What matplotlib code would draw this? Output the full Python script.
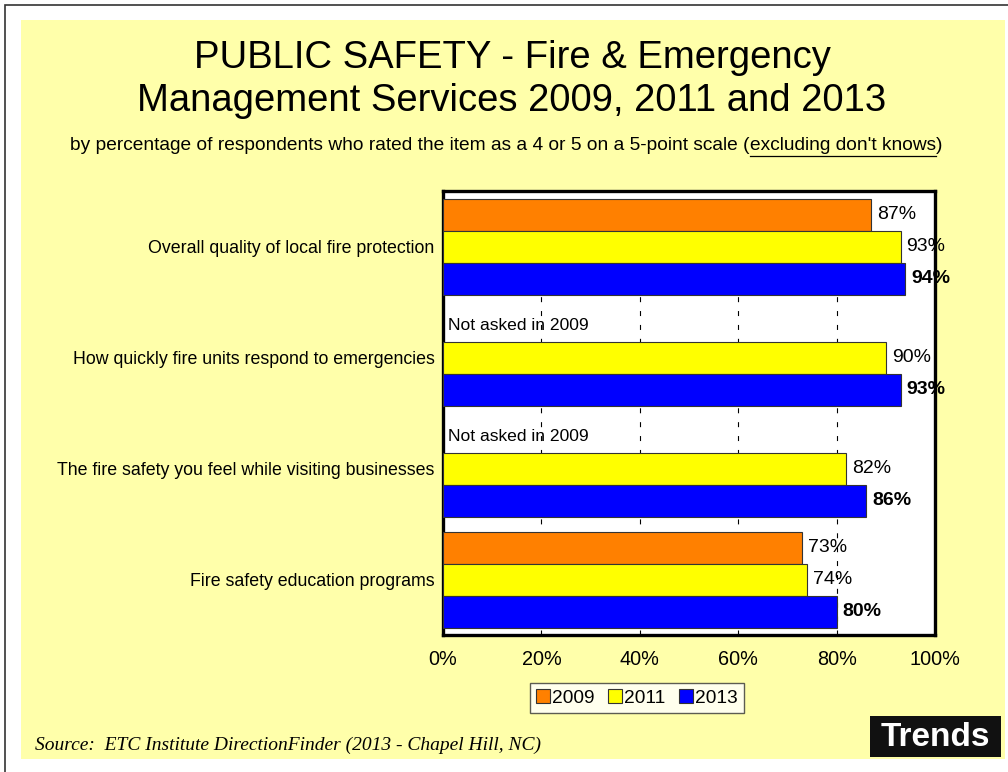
import matplotlib
matplotlib.use("Agg")
import matplotlib.pyplot as plt
from matplotlib.patches import Rectangle, Patch

plt.rcParams["font.family"] = ["Liberation Sans", "DejaVu Sans"]

categories = [
    "Overall quality of local fire protection",
    "How quickly fire units respond to emergencies",
    "The fire safety you feel while visiting businesses",
    "Fire safety education programs",
]
years = ["2009", "2011", "2013"]
v2009 = [87, None, None, 73]
v2011 = [93, 90, 82, 74]
v2013 = [94, 93, 86, 80]
xticks = [0, 20, 40, 60, 80, 100]

colors = ["#FF8000", "#FFFF00", "#0000FF"]
W, H = 1008, 772

fig = plt.figure(figsize=(W / 100, H / 100), dpi=100)
fig.patch.set_facecolor("white")

# page frame and the yellow slide panel
fig.add_artist(Rectangle((5 / W, -0.1), 1.1, 1.1 - 5 / H, transform=fig.transFigure,
                         facecolor="white", edgecolor="#333333", lw=1.2, zorder=0))
fig.add_artist(Rectangle((21 / W, 1 - 759 / H), (1005 - 21) / W, (759 - 20) / H,
                         transform=fig.transFigure, facecolor="#FFFFAA",
                         edgecolor="none", zorder=0))

fig.text(512 / W, 1 - 58 / H, "PUBLIC SAFETY - Fire & Emergency",
         ha="center", va="center", fontsize=27.5)
fig.text(512 / W, 1 - 101 / H, "Management Services 2009, 2011 and 2013",
         ha="center", va="center", fontsize=27.5)

sub_fs = 13.8
sub_y = 1 - 146 / H
part1 = fig.text(70 / W, sub_y,
                 "by percentage of respondents who rated the item as a 4 or 5 on a 5-point scale (",
                 ha="left", va="center", fontsize=sub_fs)

ax = fig.add_axes([443 / W, 1 - 635 / H, (935 - 443) / W, (635 - 191) / H])
ax.set_facecolor("white")

h = 32 / 111
series = [v2009, v2011, v2013]
for k, vals in enumerate(series):
    for i, v in enumerate(vals):
        y = i + (k - 1) * h
        if v is None:
            ax.text(1, y, "Not asked in 2009", ha="left", va="center", fontsize=12.6,
                    zorder=4)
            continue
        ax.barh(y, v, height=h, color=colors[k], edgecolor="#333333", lw=0.8, zorder=3)
        ax.text(v + 1.2, y, f"{v}%", ha="left", va="center", zorder=4,
                fontsize=14,
                fontweight="bold" if k == 2 else "normal")

for x in xticks[1:-1]:
    ax.axvline(x, color="black", lw=0.8, ls=(0, (4.5, 8)), zorder=1)

ax.set_xlim(0, 100)
ax.set_ylim(3.5, -0.5)
ax.set_xticks(xticks)
ax.set_xticklabels([f"{x}%" for x in xticks], fontsize=14.3)
ax.set_yticks(range(len(categories)))
ax.set_yticklabels(categories, fontsize=12.8)
ax.tick_params(length=0)
ax.tick_params(axis="x", pad=11)
ax.tick_params(axis="y", pad=6)
for s in ax.spines.values():
    s.set_linewidth(2.4)
    s.set_color("black")

handles = [Patch(facecolor=c, edgecolor="#333333", lw=0.8) for c in colors]
leg = fig.legend(handles, years, loc="center", bbox_to_anchor=(637 / W, 1 - 698 / H),
                 ncol=3, fontsize=13.8, frameon=True, fancybox=False,
                 handlelength=0.75, handleheight=0.75, handletextpad=0.1,
                 columnspacing=0.7, borderpad=0.3)
leg.get_frame().set_edgecolor("#333333")
leg.get_frame().set_linewidth(1.0)

fig.text(35 / W, 1 - 745 / H, "Source:  ETC Institute DirectionFinder (2013 - Chapel Hill, NC)",
         ha="left", va="center", fontsize=14, fontstyle="italic",
         family=["Liberation Serif", "DejaVu Serif"])

fig.add_artist(Rectangle((870 / W, 1 - 757 / H), 131 / W, 41 / H,
                         transform=fig.transFigure, facecolor="#111111",
                         edgecolor="none", zorder=2))
fig.text(935 / W, 1 - 738 / H, "Trends", ha="center", va="center", color="white",
         fontsize=24, fontweight="bold", zorder=3)

# the underlined part of the subtitle is placed after measuring the first part
fig.canvas.draw()
r = part1.get_window_extent()
u = fig.text(r.x1 / W, sub_y, "excluding don't knows", ha="left", va="center",
             fontsize=sub_fs)
fig.canvas.draw()
ur = u.get_window_extent()
fig.add_artist(plt.Line2D([ur.x0 / W, ur.x1 / W], [(ur.y0 - 1) / H, (ur.y0 - 1) / H],
                          transform=fig.transFigure, color="black", lw=0.9))
fig.text(ur.x1 / W, sub_y, ")", ha="left", va="center", fontsize=sub_fs)

fig.savefig("out.png", dpi=100, facecolor=fig.get_facecolor())
